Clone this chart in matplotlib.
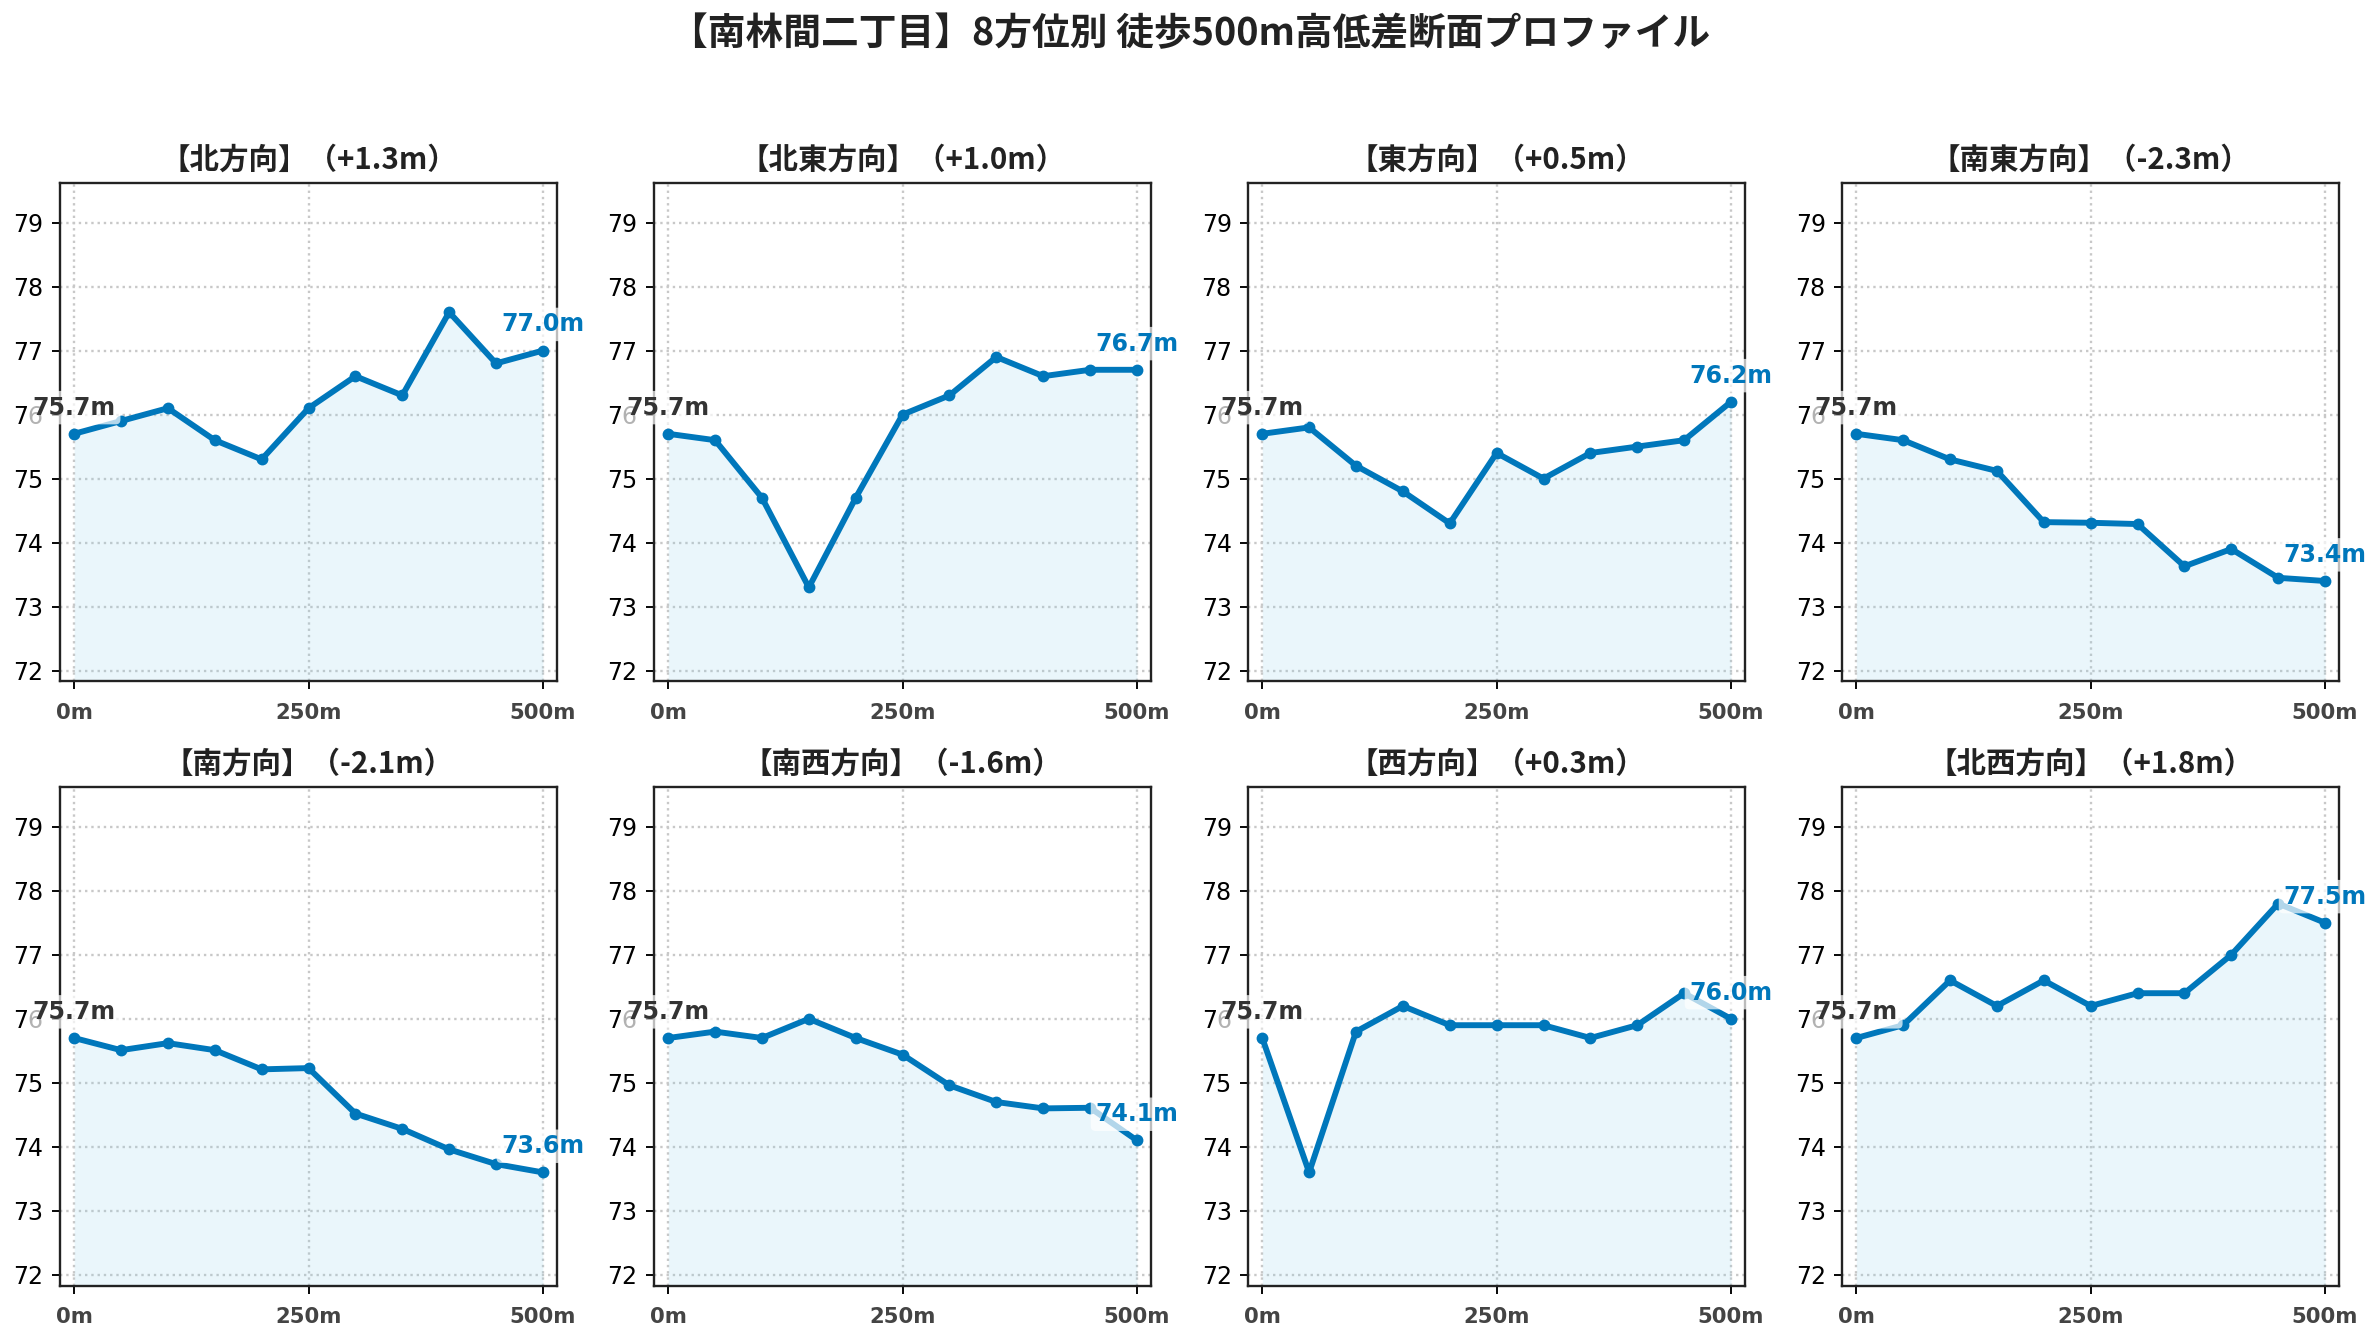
import matplotlib
matplotlib.use("Agg")
import matplotlib.pyplot as plt

plt.rcParams['font.family'] = ['DejaVu Sans', 'Noto Sans CJK JP']

# distances along each walk (m)
distances = [0, 50, 100, 150, 200, 250, 300, 350, 400, 450, 500]

directions = ["北", "北東", "東", "南東", "南", "南西", "西", "北西"]

elev_n = [75.7, 75.9, 76.1, 75.6, 75.3, 76.1, 76.6, 76.3, 77.6, 76.8, 77.0]
elev_ne = [75.7, 75.6, 74.7, 73.3, 74.7, 76.0, 76.3, 76.9, 76.6, 76.7, 76.7]
elev_e = [75.7, 75.8, 75.2, 74.8, 74.3, 75.4, 75.0, 75.4, 75.5, 75.6, 76.2]
elev_se = [75.7, 75.6, 75.3, 75.12, 74.32, 74.31, 74.29, 73.63, 73.9, 73.45, 73.4]
elev_s = [75.7, 75.51, 75.62, 75.51, 75.21, 75.23, 74.52, 74.28, 73.96, 73.73, 73.6]
elev_sw = [75.7, 75.8, 75.7, 76.0, 75.7, 75.44, 74.96, 74.7, 74.6, 74.61, 74.1]
elev_w = [75.7, 73.6, 75.8, 76.2, 75.9, 75.9, 75.9, 75.7, 75.9, 76.4, 76.0]
elev_nw = [75.7, 75.9, 76.6, 76.2, 76.6, 76.2, 76.4, 76.4, 77.0, 77.8, 77.5]

profiles = [elev_n, elev_ne, elev_e, elev_se, elev_s, elev_sw, elev_w, elev_nw]

line_color = "#0077BB"

fig, axes = plt.subplots(2, 4, figsize=(14, 1340 / 170), dpi=170)
fig.subplots_adjust(left=0.02525, right=0.98282, top=0.86351, bottom=0.04052,
                    wspace=0.1956, hspace=0.2118)

ymin, ymax = 71.83, 79.62

for ax, name, elev in zip(axes.flat, directions, profiles):
    diff = elev[-1] - elev[0]
    ax.fill_between(distances, elev, ymin, color="skyblue", alpha=0.17, linewidth=0)
    ax.plot(distances, elev, color=line_color, linewidth=2.5, marker="o", markersize=4)

    ax.set_ylim(ymin, ymax)
    ax.set_xlim(-15, 515)
    ax.set_yticks(range(72, 80))
    ax.set_xticks([0, 250, 500])
    ax.set_xticklabels(["0m", "250m", "500m"], fontweight="bold", color="#444444", fontsize=9)
    ax.tick_params(axis="y", labelsize=10)
    ax.tick_params(axis="x", pad=5.5)
    ax.grid(True, linestyle=":", color="#c8c8c8", linewidth=1)
    ax.set_axisbelow(True)
    for sp in ax.spines.values():
        sp.set_linewidth(1.0)
        sp.set_color("#222222")

    ax.set_title(f"【{name}方向】（{diff:+.1f}m）", fontsize=12.5, fontweight="bold",
                 family=["Noto Sans CJK JP"], pad=6, color="#222222")

    ax.annotate(f"{elev[0]:.1f}m", xy=(distances[0], elev[0]), xytext=(0, 6),
                textcoords="offset points", ha="center", va="bottom",
                fontsize=10, fontweight="bold", color="#333333",
                bbox=dict(boxstyle="round,pad=0.2", fc="white", ec="none", alpha=0.7),
                annotation_clip=False)
    ax.annotate(f"{elev[-1]:.1f}m", xy=(distances[-1], elev[-1]), xytext=(0, 6),
                textcoords="offset points", ha="center", va="bottom",
                fontsize=10, fontweight="bold", color=line_color,
                bbox=dict(boxstyle="round,pad=0.2", fc="white", ec="none", alpha=0.7),
                annotation_clip=False)

fig.suptitle("【南林間二丁目】8方位別 徒歩500m高低差断面プロファイル", fontsize=16,
             fontweight="bold", family=["Noto Sans CJK JP"], y=0.9746, va="center",
             color="#222222")

fig.savefig("out.png", dpi=170)
